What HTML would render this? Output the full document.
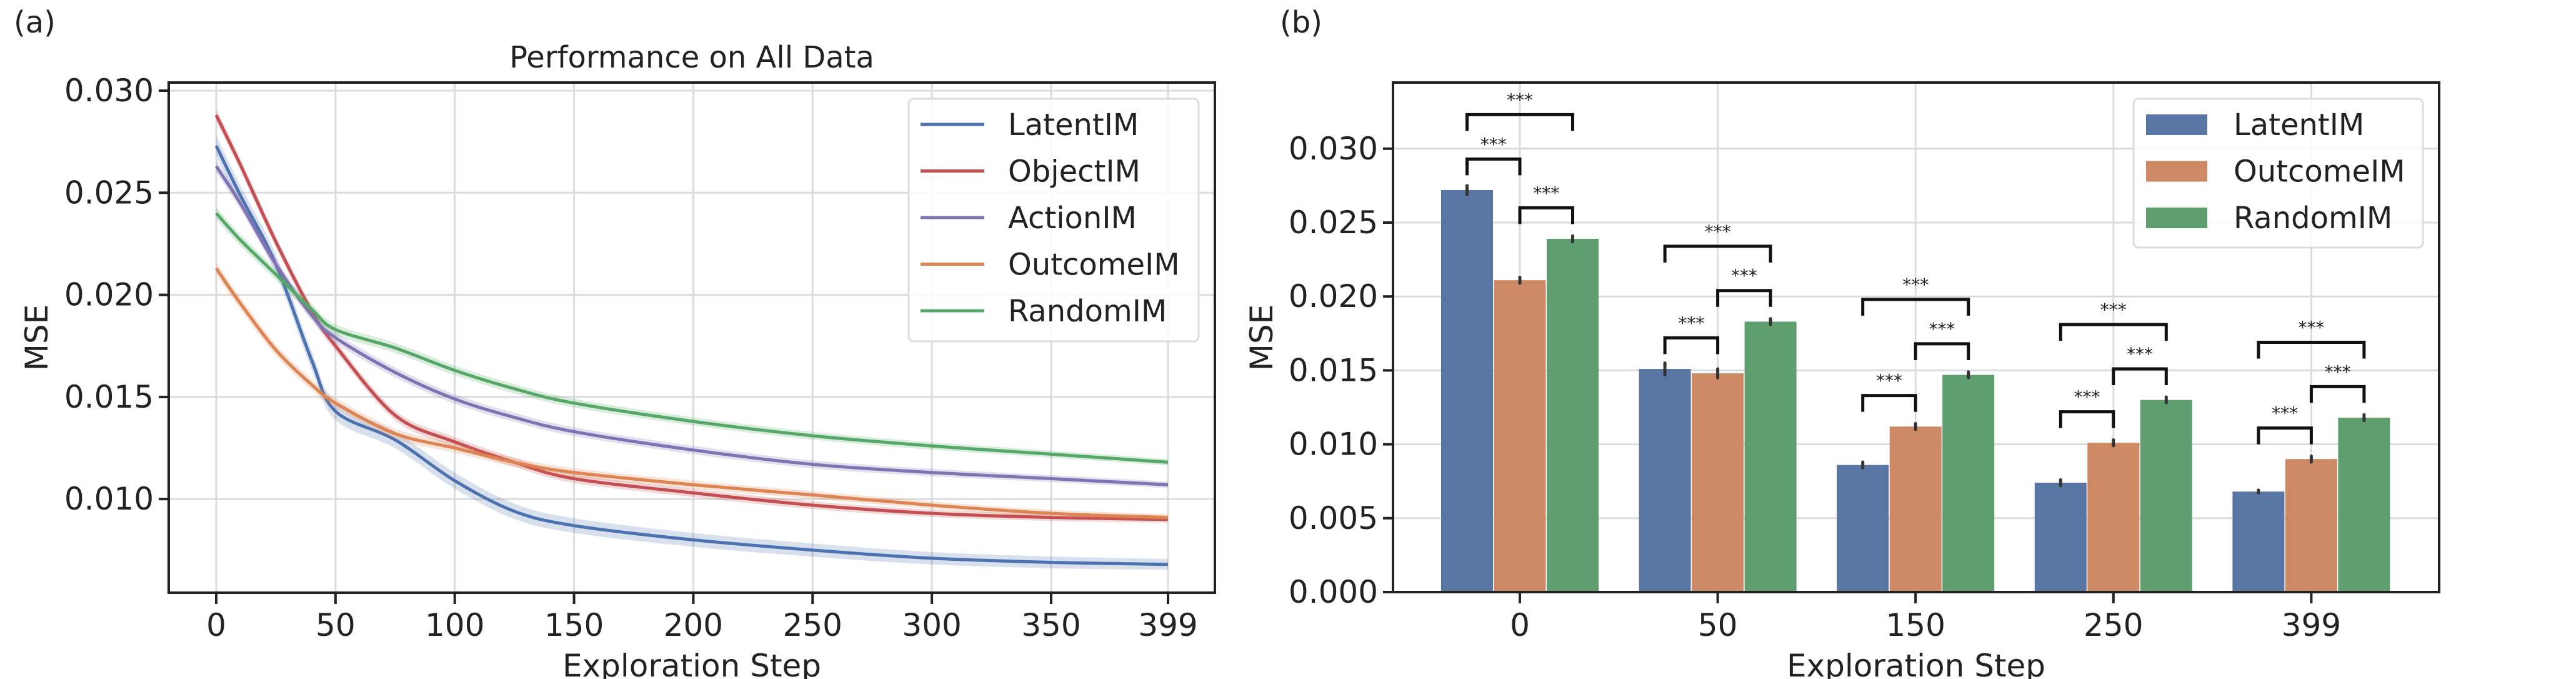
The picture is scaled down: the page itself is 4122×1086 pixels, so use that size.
<!DOCTYPE html>
<html><head><meta charset="utf-8"><style>
html,body{margin:0;padding:0;background:#fff;}
svg{display:block;font-family:"DejaVu Sans","Liberation Sans",sans-serif;}
</style></head><body>
<svg id="fig" width="4122" height="1086" viewBox="0 0 4122 1086" xmlns="http://www.w3.org/2000/svg">
<rect width="4122" height="1086" fill="#fff"/>
<text x="22" y="52" font-size="48" fill="#222">(a)</text>
<text x="2048" y="52" font-size="48" fill="#222">(b)</text>
<g id="left"></g>
<g id="right"></g>
</svg>
<script>
// ---- Left chart data ----
const steps = [0,10,25,40,50,75,100,125,150,200,250,300,350,399];
const latentIM  = [.0273,.0249,.0215,.0168,.0143,.0129,.0109,.0094,.0087,.0080,.0075,.0071,.0069,.0068];
const objectIM  = [.0288,.0264,.0226,.0192,.0175,.0141,.0128,.0118,.0110,.0103,.0097,.0093,.0091,.0090];
const actionIM  = [.0263,.0245,.0215,.0190,.0179,.0162,.0149,.0140,.0133,.0124,.0117,.0113,.0110,.0107];
const outcomeIM = [.0213,.0196,.0173,.0156,.0147,.0132,.0125,.0118,.0113,.0107,.0102,.0097,.0093,.0091];
const randomIM  = [.0240,.0227,.0210,.0193,.0183,.0174,.0163,.0154,.0147,.0138,.0131,.0126,.0122,.0118];
const lineNames = ["LatentIM","ObjectIM","ActionIM","OutcomeIM","RandomIM"];
const lineXTicks = [0,50,100,150,200,250,300,350,399];
const lineYTicks = [0.010,0.015,0.020,0.025,0.030];

// ---- Right chart data ----
const barCategories = ["0","50","150","250","399"];
const barLatent  = [.0272,.0151,.0086,.0074,.0068];
const barOutcome = [.0211,.0148,.0112,.0101,.0090];
const barRandom  = [.0239,.0183,.0147,.0130,.0118];
const barErr     = [[.0003,.0004,.0002,.0002,.0001],[.0002,.0003,.0002,.0002,.0002],[.0002,.0002,.0002,.0002,.0002]];
const barNames = ["LatentIM","OutcomeIM","RandomIM"];
const barYTicks = [0.000,0.005,0.010,0.015,0.020,0.025,0.030];

const NS="http://www.w3.org/2000/svg";
function mk(parent,tag,attrs,text){const e=document.createElementNS(NS,tag);for(const k in attrs)e.setAttribute(k,attrs[k]);if(text!==undefined)e.textContent=text;parent.appendChild(e);return e;}
function smooth(pts,start){
  let d=(start?'M':'L')+pts[0][0]+','+pts[0][1];
  for(let i=0;i<pts.length-1;i++){
    const p0=pts[Math.max(0,i-1)],p1=pts[i],p2=pts[i+1],p3=pts[Math.min(pts.length-1,i+2)];
    const c1=[p1[0]+(p2[0]-p0[0])/6,p1[1]+(p2[1]-p0[1])/6];
    const c2=[p2[0]-(p3[0]-p1[0])/6,p2[1]-(p3[1]-p1[1])/6];
    d+='C'+c1[0]+','+c1[1]+' '+c2[0]+','+c2[1]+' '+p2[0]+','+p2[1];
  }
  return d;
}

// ===== Left chart =====
(function(){
const g=document.getElementById('left');
const L=270,R=1944,T=132,B=948;
const xs=v=>346+(v/399)*(1869-346);
const ys=v=>145+(0.030-v)/0.005*163.3;
const lineColors=["#4c72b0","#c44e52","#8172b3","#dd8452","#55a868"];
const series=[latentIM,objectIM,actionIM,outcomeIM,randomIM];
lineYTicks.forEach(t=>{
  const gl=mk(g,'line',{x1:L,x2:R,y1:ys(t),y2:ys(t),stroke:'#dcdcdc','stroke-width':3});
  
  
  mk(g,'line',{x1:L-16,x2:L,y1:ys(t),y2:ys(t),stroke:'#222','stroke-width':4});
  const tl=mk(g,'text',{x:L-24,y:ys(t)+17,'font-size':50,'text-anchor':'end',fill:'#222'},t.toFixed(3));
  
  
});
lineXTicks.forEach(t=>{
  const gl=mk(g,'line',{x1:xs(t),x2:xs(t),y1:T,y2:B,stroke:'#dcdcdc','stroke-width':3});
  
  
  mk(g,'line',{x1:xs(t),x2:xs(t),y1:B,y2:B+18,stroke:'#222','stroke-width':4});
  const tl=mk(g,'text',{x:xs(t),y:1017,'font-size':50,'text-anchor':'middle',fill:'#222'},String(t));
  
  
});
series.forEach((s,i)=>{
  const w=i===0?0.0005:0.0003;
  const upPts=steps.map((x,j)=>[xs(x),ys(s[j]+w*(1-j/steps.length*0.5))]);
  const dnPts=steps.map((x,j)=>[xs(x),ys(s[j]-w*(1-j/steps.length*0.5))]).reverse();
  const band=mk(g,'path',{d:smooth(upPts,true)+smooth(dnPts,false)+'Z',fill:lineColors[i],'fill-opacity':0.22});
  
  
  const pts=steps.map((x,j)=>[xs(x),ys(s[j])]);
  const p=mk(g,'path',{d:smooth(pts,true),fill:'none',stroke:lineColors[i],'stroke-width':5,'stroke-linejoin':'round'});
  
  
});
mk(g,'rect',{x:L,y:T,width:R-L,height:B-T,fill:'none',stroke:'#222','stroke-width':4});
const ti=mk(g,'text',{x:(L+R)/2,y:108,'font-size':48,'text-anchor':'middle',fill:'#222'},'Performance on All Data');


const yl=mk(g,'text',{x:0,y:0,'font-size':50,'text-anchor':'middle',fill:'#222',transform:'translate(76,540) rotate(-90)'},'MSE');


const xl=mk(g,'text',{x:(L+R)/2,y:1082,'font-size':50,'text-anchor':'middle',fill:'#222'},'Exploration Step');


const lg=mk(g,'g',{});


mk(lg,'rect',{x:1454,y:158,width:464,height:388,rx:8,fill:'#fff','fill-opacity':0.85,stroke:'#ddd','stroke-width':3});
lineNames.forEach((n,i)=>{
  const y=199+i*74.5;
  const e=mk(lg,'g',{});
  
  
  mk(e,'line',{x1:1473,x2:1575,y1:y,y2:y,stroke:lineColors[i],'stroke-width':5});
  mk(e,'text',{x:1613,y:y+17,'font-size':48,fill:'#222'},n);
});
})();

// ===== Right chart =====
(function(){
const g=document.getElementById('right');
const L=2229,R=3903,T=132,B=947;
const ys=v=>B-v/0.005*118.2;
const cx=i=>2432+i*316.6;
const bw=83;
const colors=["#5975a4","#cc8963","#5f9e6e"];
const vals=[barLatent,barOutcome,barRandom];
barYTicks.forEach(t=>{
  const gl=mk(g,'line',{x1:L,x2:R,y1:ys(t),y2:ys(t),stroke:'#dcdcdc','stroke-width':3});
  
  
  mk(g,'line',{x1:L-16,x2:L,y1:ys(t),y2:ys(t),stroke:'#222','stroke-width':4});
  const tl=mk(g,'text',{x:L-24,y:ys(t)+17,'font-size':50,'text-anchor':'end',fill:'#222'},t.toFixed(3));
  
  
});
barCategories.forEach((c,i)=>{
  const gl=mk(g,'line',{x1:cx(i),x2:cx(i),y1:T,y2:B,stroke:'#dcdcdc','stroke-width':3});
  
  
  mk(g,'line',{x1:cx(i),x2:cx(i),y1:B,y2:B+18,stroke:'#222','stroke-width':4});
  const tl=mk(g,'text',{x:cx(i),y:1017,'font-size':50,'text-anchor':'middle',fill:'#222'},c);
  
  
});
const bx=(i,k)=>cx(i)+(k-1)*(bw+1.5);
barCategories.forEach((c,i)=>{
  vals.forEach((s,k)=>{
    const r=mk(g,'rect',{x:bx(i,k)-bw/2,y:ys(s[i]),width:bw,height:B-ys(s[i]),fill:colors[k]});
    
    
    const eb=mk(g,'line',{x1:bx(i,k),x2:bx(i,k),y1:ys(s[i]+barErr[k][i]),y2:ys(s[i]-barErr[k][i]),stroke:'#333','stroke-width':5,'stroke-linecap':'round'});
    
    
  });
  const pairs=[[0,1],[1,2],[0,2]];
  const h={};
  pairs.forEach(([a,b])=>{
    let m=0;for(let k=a;k<=b;k++)m=Math.max(m,vals[k][i]);
    let top=m+0.0021;
    if(a===0&&b===2)top=Math.max(h['01']||0,h['12']||0)+0.003;
    h[''+a+b]=top;
    const x1=bx(i,a),x2=bx(i,b),y=ys(top),yl=y+26;
    const br=mk(g,'path',{d:`M${x1},${yl}L${x1},${y}L${x2},${y}L${x2},${yl}`,fill:'none',stroke:'#111','stroke-width':5});
    
    
    const st=mk(g,'text',{x:(x1+x2)/2,y:y-14,'font-size':28,'text-anchor':'middle',fill:'#222'},'***');
    
    
  });
});
mk(g,'rect',{x:L,y:T,width:R-L,height:B-T,fill:'none',stroke:'#222','stroke-width':4});
const yl=mk(g,'text',{x:0,y:0,'font-size':50,'text-anchor':'middle',fill:'#222',transform:'translate(2036,540) rotate(-90)'},'MSE');


const xl=mk(g,'text',{x:(L+R)/2,y:1082,'font-size':50,'text-anchor':'middle',fill:'#222'},'Exploration Step');


const lg=mk(g,'g',{});


mk(lg,'rect',{x:3414,y:158,width:463,height:238,rx:8,fill:'#fff','fill-opacity':0.85,stroke:'#ddd','stroke-width':3});
barNames.forEach((n,i)=>{
  const y=199+i*74.5;
  const e=mk(lg,'g',{});
  
  
  mk(e,'rect',{x:3434,y:y-16,width:98,height:33,fill:colors[i]});
  mk(e,'text',{x:3574,y:y+17,'font-size':48,fill:'#222'},n);
});
})();
</script>
</body></html>
